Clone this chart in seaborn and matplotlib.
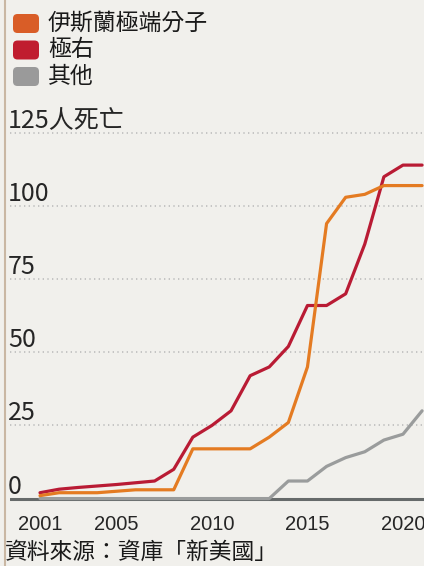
import pandas as pd
import matplotlib
matplotlib.use('Agg')
import matplotlib.pyplot as plt
from matplotlib.patches import FancyBboxPatch
from matplotlib.lines import Line2D
import seaborn as sns

# cumulative deaths per year
years = [2001, 2002, 2003, 2004, 2005, 2006, 2007, 2008, 2009, 2010, 2011,
         2012, 2013, 2014, 2015, 2016, 2017, 2018, 2019, 2020, 2021]
islamist = [1, 2, 2, 2, 2.5, 3, 3, 3, 17, 17, 17,
            17, 21, 26, 45, 94, 103, 104, 107, 107, 107]
far_right = [2, 3.2, 3.8, 4.3, 4.8, 5.4, 6, 10, 21, 25, 30,
             42, 45, 52, 66, 66, 70, 87, 110, 114, 114]
other = [0, 0, 0, 0, 0, 0, 0, 0, 0, 0, 0,
         0, 0, 6, 6, 11, 14, 16, 20, 22, 30]

series_names = ['伊斯蘭極端分子', '極右', '其他']
y_ticks = [0, 25, 50, 75, 100, 125]
y_labels = ['0', '25', '50', '75', '100', '125人死亡']
x_ticks = [2001, 2005, 2010, 2015, 2020]
source_text = '資料來源：資庫「新美國」'

line_colors = {'伊斯蘭極端分子': '#e47b22', '極右': '#b91b34', '其他': '#9a9c9c'}
legend_colors = ['#d95d27', '#c01d2f', '#9a9a9a']
bg = '#f1f0ec'

sns.set_style('white')
plt.rcParams['font.family'] = ['Liberation Sans Narrow', 'Noto Sans CJK TC', 'DejaVu Sans']
cjk = ['Noto Sans CJK TC', 'DejaVu Sans']

df = pd.DataFrame({
    'year': years * 3,
    'deaths': islamist + far_right + other,
    'group': [series_names[0]] * len(years) + [series_names[1]] * len(years) + [series_names[2]] * len(years),
})

fig = plt.figure(figsize=(4.24, 5.66), dpi=100, facecolor=bg)
ax = fig.add_axes([10 / 424, 1 - 505 / 566, 414 / 424, 375 / 566])
ax.set_facecolor(bg)

# dotted gridlines and the zero line
for v in y_ticks[1:]:
    ax.axhline(v, color='#bdbdbd', lw=1.2, ls=(0, (0.8, 2.0)), zorder=0)
ax.axhline(0, color='#666a6a', lw=2.2, zorder=1)

sns.lineplot(data=df, x='year', y='deaths', hue='group',
             hue_order=['其他', '極右', '伊斯蘭極端分子'],
             palette=line_colors, legend=False, ax=ax, linewidth=2.3, zorder=3)

ax.set_xlim(1999.43, 2021.1)
ax.set_ylim(-2.2, 126)
for s in ax.spines.values():
    s.set_visible(False)

ax.set_xticks(x_ticks)
ax.set_xticklabels([str(x) for x in x_ticks], family=['Liberation Sans', 'DejaVu Sans'])
ax.tick_params(axis='x', length=0, pad=7, labelsize=14.5)
ax.set_yticks([])
ax.set_xlabel('')
ax.set_ylabel('')

for v, lbl in zip(y_ticks, y_labels):
    ax.annotate(lbl, xy=(0, v), xycoords=ax.get_yaxis_transform(),
                xytext=(-2, 5), textcoords='offset pixels',
                ha='left', va='baseline', fontsize=18)

# legend with rounded squares
for i, (name, col) in enumerate(zip(series_names, legend_colors)):
    yc = 23.5 + 26.5 * i
    box = FancyBboxPatch((13 / 100, (566 - yc - 9.5) / 100), 26 / 100, 19 / 100,
                         boxstyle='round,pad=0,rounding_size=0.045',
                         transform=fig.dpi_scale_trans, facecolor=col,
                         edgecolor='none')
    fig.add_artist(box)
    fig.text(48 / 424, 1 - yc / 566, name, va='center', ha='left',
             fontsize=16.5, family=cjk, color='#1a1a1a')

fig.text(5 / 424, 1 - 552 / 566, source_text, va='center', ha='left',
         fontsize=16.4, family=cjk, color='#1a1a1a')

fig.add_artist(Line2D([4.5 / 424, 4.5 / 424], [0, 1], transform=fig.transFigure,
                      color='#c9b7a3', lw=1.5))

fig.savefig('out.png', dpi=100, facecolor=bg)
plt.close(fig)
